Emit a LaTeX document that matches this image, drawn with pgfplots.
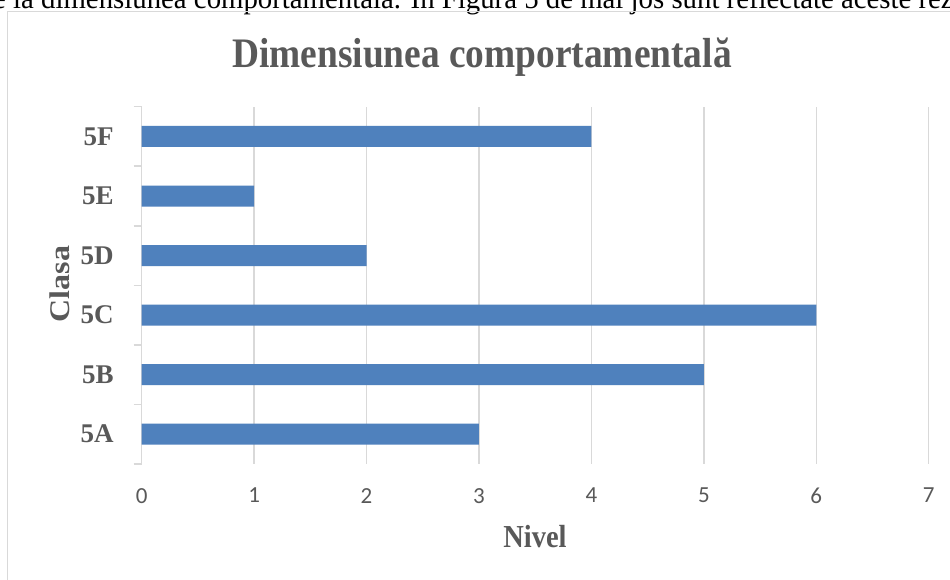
\documentclass[border=0pt]{standalone}
\usepackage{pgfplots}
\pgfplotsset{compat=1.18}
\usepackage{fontspec}
\setmainfont{Liberation Serif}
\newfontfamily\calibri{Carlito}
\definecolor{barblue}{HTML}{4F81BD}
\definecolor{txtgray}{HTML}{595959}
\definecolor{gridgray}{HTML}{D9D9D9}

\begin{document}
\begin{tikzpicture}[x=1bp,y=1bp]
\useasboundingbox (0,0) rectangle (950,580);
\clip (0,0) rectangle (950,580);
\fill[white] (0,0) rectangle (950,580);

% cut-off line of body text above the chart
\node[anchor=base west, inner sep=0pt, text=black] at (-7,571.5)
  {\scalebox{0.96}[1]{\fontsize{30bp}{36bp}\selectfont e la dimensiunea comportamentală. În Figura 5 de mai jos sunt reflectate aceste rezultate.}};

% chart frame
\draw[gridgray, line width=1.5bp] (7.5,-10) -- (7.5,568.3) -- (970,568.3);

% title
\node[anchor=base, inner sep=0pt, text=txtgray] at (482,512.3)
  {\scalebox{0.89}[1]{\fontsize{42bp}{50bp}\selectfont\bfseries Dimensiunea comportamentală}};

\begin{axis}[
  at={(141.7bp,116bp)}, anchor=south west,
  scale only axis, width=787bp, height=357.3bp,
  xbar, bar width=21bp,
  xmin=0, xmax=7, ymin=-0.5, ymax=5.5,
  xtick={0,...,7}, xtick pos=bottom,
  ytick={0,...,5}, ytick pos=left,
  yticklabels={5A,5B,5C,5D,5E,5F},
  axis line style={draw=none},
  tick style={draw=none},
  xmajorgrids, grid style={gridgray, line width=1.5bp},
  extra y ticks={-0.5,0.5,...,5.5}, extra y tick labels={},
  extra y tick style={tick style={draw=gridgray, line width=1.5bp}, tick align=outside, major tick length=8bp},
  /pgf/number format/assume math mode=true,
  xticklabel style={font=\calibri\fontsize{23bp}{27bp}\selectfont, text=txtgray, anchor=north, inner sep=0pt, yshift=-24bp},
  yticklabel style={font=\fontsize{27bp}{32bp}\selectfont\bfseries, text=txtgray, anchor=east, inner sep=0pt, xshift=-23.7bp},
]
\addplot[fill=barblue, draw=none] coordinates {(3,0) (5,1) (6,2) (2,3) (1,4) (4,5)};
\end{axis}

% axis titles
\node[anchor=base, inner sep=0pt, text=txtgray] at (535,32.7)
  {\scalebox{0.89}[1]{\fontsize{32bp}{38bp}\selectfont\bfseries Nivel}};
\node[rotate=90, inner sep=0pt, text=txtgray] at (60,296)
  {\scalebox{1}[0.89]{\fontsize{32bp}{38bp}\selectfont\bfseries Clasa}};
\end{tikzpicture}
\end{document}
